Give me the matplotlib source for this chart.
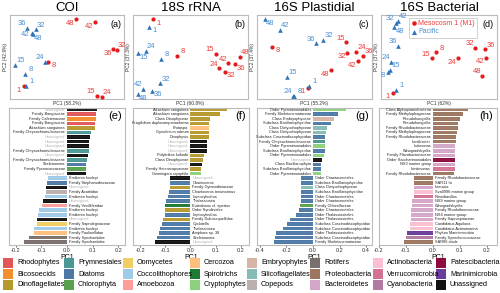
import numpy as np
import matplotlib.pyplot as plt
from matplotlib.patches import Rectangle

plt.rcParams['font.family'] = ['Liberation Sans', 'DejaVu Sans']

W, H = 500, 293

# ---- ordination scores (arbitrary PC units) ----
samples = ['1', '8', '15', '24', '32', '36', '42', '48']

coi_m1_pc1 = [14.3, 37.7, 86.5, 91.5, 106.7, 103.3, 85.0, 66.0]
coi_m1_pc2 = [13.0, 37.3, 3.0, 2.0, 49.0, 50.0, 76.7, 80.0]
coi_pa_pc1 = [16.0, 15.0, 5.0, 35.0, 25.7, 17.3, 21.7, 22.5]
coi_pa_pc2 = [13.3, 25.0, 34.0, 37.3, 69.7, 71.3, 65.7, 65.0]

s18_m1_pc1 = [20.3, 43.7, 82.7, 86.0, 92.0, 102.0, 95.3, 107.0]
s18_m1_pc2 = [79.7, 43.0, 45.0, 30.7, 27.3, 34.7, 35.7, 42.3]
s18_pa_pc1 = [16.0, 28.0, 5.3, 12.7, 27.0, 19.3, 10.3, 4.7]
s18_pa_pc2 = [72.3, 40.0, 45.7, 48.0, 15.7, 8.3, 10.0, 4.7]

pla_m1_pc1 = [51.3, 14.7, 89.0, 99.0, 90.3, 106.3, 100.7, 73.7]
pla_m1_pc2 = [11.3, 52.3, 56.7, 47.3, 46.3, 43.0, 38.0, 29.0]
pla_pa_pc1 = [52.0, 37.0, 30.3, 36.3, 66.3, 59.0, 23.0, 8.0]
pla_pa_pc2 = [13.0, 3.3, 22.3, 3.0, 59.0, 55.7, 69.0, 80.0]

bac_m1_pc1 = [12.3, 54.7, 50.7, 76.7, 94.0, 104.0, 104.7, 101.3]
bac_m1_pc2 = [6.3, 46.7, 40.7, 40.7, 51.3, 49.7, 41.3, 23.0]
bac_pa_pc1 = [14.7, 7.3, 9.0, 10.0, 14.7, 17.3, 16.7, 13.3]
bac_pa_pc2 = [9.0, 27.3, 29.0, 37.3, 76.3, 53.0, 78.3, 71.7]

titles = ['COI', '18S rRNA', '16S Plastidial', '16S Bacterial']
pc1_labels = ['PC1 (58.2%)', 'PC1 (60.8%)', 'PC1 (55.2%)', 'PC1 (62%)']
pc2_labels = ['PC2 (42.9%)', 'PC2 (37.3%)', 'PC2 (37.4%)', 'PC2 (37.2%)']

# ---- PC1 loadings, top to bottom ----
coi_taxa = ['Unassigned', 'Family Bangiaceae', 'Family Cafeteriaceae', 'Family Bangiaceae',
            'Akashiwo sanguinea', 'Family Chrysochromulinaceae', 'Unassigned', 'Unassigned',
            'Unassigned', 'Family Chrysochromulinaceae', 'Unassigned', 'Family Chrysochromulinaceae',
            'Skeletonema', 'Family Pycnococcaceae', 'Unassigned',
            'Emiliania huxleyi', 'Family Stephanodiscaceae', 'Unassigned', 'Family Acartiidae',
            'Emiliania huxleyi', 'Unassigned', 'Family Vexilliferidae', 'Emiliania huxleyi',
            'Emiliania huxleyi', 'Unassigned', 'Family Saprolegniaceae', 'Emiliania huxleyi',
            'Family Paulinellidae', 'Family Synchaetidae', 'Family Synchaetidae']
coi_load = [0.116, 0.112, 0.113, 0.110, 0.108, 0.092, 0.089, 0.088, 0.086, 0.085, 0.083, 0.079,
            0.076, 0.074, 0.074,
            -0.076, -0.078, -0.082, -0.082, -0.085, -0.092, -0.098, -0.109, -0.115, -0.119,
            -0.119, -0.128, -0.131, -0.148, -0.170]
coi_group = ['Unassigned', 'Rhodophytes', 'Bicosoecids', 'Rhodophytes', 'Dinoflagellates',
             'Prymnesiales', 'Unassigned', 'Unassigned', 'Unassigned', 'Prymnesiales', 'Unassigned',
             'Prymnesiales', 'Diatoms', 'Chlorophyta', 'Unassigned',
             'Coccolithophores', 'Diatoms', 'Unassigned', 'Copepods', 'Coccolithophores',
             'Unassigned', 'Amoebozoa', 'Coccolithophores', 'Coccolithophores', 'Unassigned',
             'Oomycetes', 'Coccolithophores', 'Cercozoa', 'Rotifers', 'Rotifers']

s18_taxa = ['Akashiwo sanguinea', 'Akashiwo sanguinea', 'Class Dinophyceae',
            'Fragilidium duplocampanaeforme', 'Protaspa', 'Gyrodinium rubrum', 'Dinophysis',
            'Unassigned', 'Unassigned', 'Unassigned', 'Polykrikos kofoidii', 'Class Dinophyceae',
            'Unassigned', 'Family Heterocapsaceae', 'Geminigera cryophila',
            'Unassigned', 'Chaetoceros', 'Family Gymnodiniaceae', 'Chaetoceros tenuissimus',
            'Leptocylindrus', 'Thalassiosira', 'Eutintinnus cf. apertus', 'Order Syndiniales',
            'Leptocylindrus', 'Family Duboscquellidae', 'Cyclotella', 'Thalassiosira',
            'Amphora sp. 38', 'Skeletonema', 'Unassigned']
s18_load = [0.146, 0.116, 0.079, 0.075, 0.073, 0.073, 0.073, 0.066, 0.066, 0.066, 0.053, 0.049,
            0.046, 0.044, 0.044,
            -0.079, -0.079, -0.082, -0.086, -0.090, -0.095, -0.100, -0.100, -0.100, -0.108,
            -0.114, -0.119, -0.124, -0.132, -0.140]
s18_group = ['Dinoflagellates', 'Dinoflagellates', 'Dinoflagellates', 'Dinoflagellates', 'Cercozoa',
             'Dinoflagellates', 'Dinoflagellates', 'Unassigned', 'Unassigned', 'Unassigned',
             'Dinoflagellates', 'Dinoflagellates', 'Unassigned', 'Dinoflagellates', 'Cryptophytes',
             'Unassigned', 'Diatoms', 'Dinoflagellates', 'Diatoms', 'Diatoms', 'Diatoms',
             'Spirotrichs', 'Dinoflagellates', 'Diatoms', 'Dinoflagellates', 'Diatoms', 'Diatoms',
             'Diatoms', 'Diatoms', 'Unassigned']

pla_taxa = ['Order Pyramimonadales', 'Family Skeletonemataceae', 'Class Embryophyceae',
            'Subclass Bacillariophycidae', 'Class Dictyochophyceae', 'Class Dictyochophyceae',
            'Subclass Coscinodiscophycidae', 'Family Chrysochromulinaceae', 'Order Pyramimonadales',
            'Subclass Bacillariophycidae', 'Order Pyramimonadales', 'Unassigned',
            'Class Bacillariophyta', 'Subclass Bacillariophycidae', 'Order Pyramimonadales',
            'Order Chaetocerotales', 'Subclass Bacillariophycidae', 'Class Dictyochophyceae',
            'Subclass Bacillariophycidae', 'Order Chaetocerotales', 'Order Chaetocerotales',
            'Family Chlorellaceae', 'Order Chaetocerotales', 'Order Thalassiosirales',
            'Order Thalassiosirales', 'Subclass Coscinodiscophycidae',
            'Subclass Coscinodiscophycidae', 'Order Thalassiosirales',
            'Subclass Coscinodiscophycidae', 'Family Skeletonemataceae']
pla_load = [0.250, 0.188, 0.155, 0.133, 0.105, 0.095, 0.093, 0.088, 0.088, 0.088, 0.080, 0.070,
            0.063, 0.063, 0.058,
            -0.088, -0.088, -0.088, -0.088, -0.088, -0.093, -0.100, -0.108, -0.125, -0.175,
            -0.195, -0.225, -0.280, -0.288, -0.295]
pla_group = ['Cryptophytes', 'Diatoms', 'Embryophytes', 'Diatoms', 'Silicoflagellates',
             'Silicoflagellates', 'Diatoms', 'Prymnesiales', 'Cryptophytes', 'Diatoms',
             'Cryptophytes', 'Unassigned', 'Diatoms', 'Diatoms', 'Cryptophytes',
             'Diatoms', 'Diatoms', 'Silicoflagellates', 'Diatoms', 'Diatoms', 'Diatoms',
             'Chlorophyta', 'Diatoms', 'Diatoms', 'Diatoms', 'Diatoms', 'Diatoms', 'Diatoms',
             'Diatoms', 'Diatoms']

bac_taxa = ['Class Alphaproteobacteria', 'Family Methylophagaceae', 'Pseudohongiella',
            'Pseudohongiella', 'Family Rhodobacteraceae', 'Family Methylophagaceae',
            'Family Rhodobacteraceae', 'Lentibacter', 'Lutimonas', 'Winogradskyella',
            'Family Flavobacteriaceae', 'Order Saccharimonadales', 'NS3 marine group',
            'Lentimonas', 'Family Rhodobacteraceae',
            'Family Rhodobacteraceae', 'SAR11 Ia', 'Leeuwia', 'Sva0996 marine group',
            'Roseibacillus', 'NS9 marine group', 'Winogradskyella', 'Family Rhodothermaceae',
            'NS4 marine group', 'Family Saprospiraceae', 'Candidatus Aquiluna',
            'Candidatus Actinomarina', 'Phylum Marinimicrobia', 'Family Synechococcaceae',
            'SAR86 clade']
bac_load = [0.129, 0.110, 0.099, 0.094, 0.092, 0.088, 0.086, 0.084, 0.081, 0.081, 0.080, 0.080,
            0.080, 0.080, 0.079,
            -0.069, -0.069, -0.069, -0.069, -0.069, -0.076, -0.076, -0.080, -0.080, -0.080,
            -0.084, -0.084, -0.095, -0.099, -0.106]
bac_group = ['Proteobacteria'] * 8 + ['Bacteroidetes', 'Bacteroidetes', 'Bacteroidetes',
             'Patescibacteria', 'Bacteroidetes', 'Verrucomicrobia', 'Proteobacteria',
             'Proteobacteria', 'Proteobacteria', 'Bacteroidetes', 'Actinobacteria',
             'Verrucomicrobia', 'Bacteroidetes', 'Bacteroidetes', 'Bacteroidetes',
             'Bacteroidetes', 'Bacteroidetes', 'Actinobacteria', 'Actinobacteria',
             'Marinimicrobia', 'Cyanobacteria', 'Proteobacteria']

# legend order (column by column)
groups = ['Rhodophytes', 'Bicosoecids', 'Dinoflagellates',
          'Prymnesiales', 'Diatoms', 'Chlorophyta',
          'Oomycetes', 'Coccolithophores', 'Amoebozoa',
          'Cercozoa', 'Spirotrichs', 'Cryptophytes',
          'Embryophytes', 'Silicoflagellates', 'Copepods',
          'Rotifers', 'Proteobacteria', 'Bacteroidetes',
          'Actinobacteria', 'Verrucomicrobia', 'Cyanobacteria',
          'Patescibacteria', 'Marinimicrobia', 'Unassigned']
group_colors = ['#E15759', '#F28E2B', '#B6992D',
                '#499894', '#4E79A7', '#59A14F',
                '#F1CE63', '#A0CBE8', '#FF9D9A',
                '#FFBE7D', '#1E7B34', '#8CD17D',
                '#D7B5A6', '#86BCB6', '#BAB0AC',
                '#79706E', '#9D7660', '#D4A6C8',
                '#FABFD2', '#D37295', '#B07AA1',
                '#8E0B3F', '#6A3D9A', '#111111']
cmap = dict(zip(groups, group_colors))

RED, RED_T = '#E41A1C', '#EE3B3B'
BLUE, BLUE_T = '#2F73B8', '#4A8FD2'
EDGE = '#BBBBBB'

fig = plt.figure(figsize=(W / 100, H / 100), dpi=100)


def rect(l, t, r, b):
    return [l / W, 1 - b / H, (r - l) / W, (b - t) / H]


offs = {'ra': (4, 3), 'rb': (4, -3), 'la': (-4, 3), 'lb': (-4, -3), 'l': (-5, -1), 'r': (5, 0)}

scatter_sets = [
    (coi_m1_pc1, coi_m1_pc2, coi_pa_pc1, coi_pa_pc2,
     ['lb', 'rb', 'la', 'ra', 'ra', 'lb', 'lb', 'lb'],
     ['ra', 'ra', 'ra', 'la', 'ra', 'la', 'l', 'rb']),
    (s18_m1_pc1, s18_m1_pc2, s18_pa_pc1, s18_pa_pc2,
     ['rb', 'ra', 'la', 'la', 'rb', 'rb', 'la', 'ra'],
     ['rb', 'ra', 'rb', 'ra', 'ra', 'rb', 'la', 'rb']),
    (pla_m1_pc1, pla_m1_pc2, pla_pa_pc1, pla_pa_pc2,
     ['lb', 'rb', 'la', 'ra', 'lb', 'ra', 'lb', 'lb'],
     ['ra', 'ra', 'ra', 'la', 'ra', 'la', 'ra', 'rb']),
    (bac_m1_pc1, bac_m1_pc2, bac_pa_pc1, bac_pa_pc2,
     ['lb', 'ra', 'la', 'lb', 'la', 'ra', 'lb', 'la'],
     ['ra', 'lb', 'ra', 'la', 'la', 'la', 'ra', 'rb']),
]
top_boxes = [(10, 15, 124, 99), (133, 15, 248, 99), (257, 15, 372, 99), (381, 15, 497, 99)]
letters_top = ['(a)', '(b)', '(c)', '(d)']

for k, (box, sset) in enumerate(zip(top_boxes, scatter_sets)):
    ax = fig.add_axes(rect(*box))
    mx, my, px, py, mo, po = sset
    ax.scatter(mx, my, s=9, color=RED, marker='o', zorder=3, label='Mesocosm 1 (M1)', linewidths=0)
    ax.scatter(px, py, s=11, color=BLUE, marker='^', zorder=3, label='Pacific', linewidths=0)
    for x, y, t, o in zip(mx, my, samples, mo):
        ax.annotate(t, (x, y), xytext=offs[o], textcoords='offset points', fontsize=5.5,
                    color=RED_T, ha='center', va='center')
    for x, y, t, o in zip(px, py, samples, po):
        ax.annotate(t, (x, y), xytext=offs[o], textcoords='offset points', fontsize=5.5,
                    color=BLUE_T, ha='center', va='center')
    ax.set_xlim(0, box[2] - box[0])
    ax.set_ylim(0, box[3] - box[1])
    ax.set_xticks([])
    ax.set_yticks([])
    for sp in ax.spines.values():
        sp.set_color(EDGE)
        sp.set_linewidth(0.8)
    ax.set_title(titles[k], fontsize=9.5, pad=3)
    ax.set_xlabel(pc1_labels[k], fontsize=3.5, labelpad=1.5, color='#333333')
    ax.set_ylabel(pc2_labels[k], fontsize=3.5, labelpad=1.5, color='#333333')
    ax.text(0.975, 0.94, letters_top[k], transform=ax.transAxes, fontsize=6.5,
            ha='right', va='top')
    if k == 3:
        lg = ax.legend(loc='upper left', bbox_to_anchor=((409 - 381) / 116, 1 - 3 / 84),
                       fontsize=5.0, handletextpad=0.1, borderpad=0.3, labelspacing=0.2,
                       fancybox=False, edgecolor=EDGE, markerscale=1.1, handlelength=0.9,
                       borderaxespad=0)
        lg.get_frame().set_linewidth(0.6)
        for txt, c in zip(lg.get_texts(), [RED_T, BLUE_T]):
            txt.set_color(c)

bar_sets = [(coi_taxa, coi_load, coi_group), (s18_taxa, s18_load, s18_group),
            (pla_taxa, pla_load, pla_group), (bac_taxa, bac_load, bac_group)]
bot_boxes = [(9, 108, 125, 245), (133, 108, 249, 245), (257, 108, 372, 245), (379, 108, 497, 245)]
xlims = [(-0.227, 0.227), (-0.228, 0.233), (-0.422, 0.445), (-0.2, 0.237)]
xticks = [[-0.2, -0.1, 0.0, 0.1, 0.2], [-0.2, -0.1, 0.0, 0.1, 0.2],
          [-0.4, -0.2, 0.0, 0.2, 0.4], [-0.2, -0.1, 0.0, 0.1, 0.2]]
letters_bot = ['(e)', '(f)', '(g)', '(h)']

for k, (box, (taxa, load, grp)) in enumerate(zip(bot_boxes, bar_sets)):
    ax = fig.add_axes(rect(*box))
    n = len(taxa)
    ypos = np.arange(n)[::-1]
    cols = [cmap[g] for g in grp]
    ax.barh(ypos, load, height=0.78, color=cols, edgecolor='none', zorder=2)
    # faint dotted texture along the bars
    for y, v in zip(ypos, load):
        ax.plot([0, v], [y, y], ls=(0, (0.6, 1.2)), lw=0.35, color='white', alpha=0.55, zorder=3)
    for y, v, t in zip(ypos, load, taxa):
        c = '#B5B5B5' if t == 'Unassigned' else '#222222'
        if v > 0:
            ax.annotate(t, (0, y), xytext=(-1.5, 0), textcoords='offset points', ha='right',
                        va='center', fontsize=2.8, color=c)
        else:
            ax.annotate(t, (0, y), xytext=(1.5, 0), textcoords='offset points', ha='left',
                        va='center', fontsize=2.8, color=c)
    ax.set_ylim(-0.6, n - 0.65)
    ax.set_xlim(*xlims[k])
    ax.set_xticks(xticks[k])
    ax.set_xticklabels([f'{t:.1f}' for t in xticks[k]])
    ax.set_yticks([])
    ax.tick_params(axis='x', labelsize=4, length=1.5, width=0.5, pad=1, colors='#333333')
    for sp in ax.spines.values():
        sp.set_color(EDGE)
        sp.set_linewidth(0.8)
    ax.set_xlabel('PC1', fontsize=5, labelpad=0.5)
    ax.text(0.97, 0.975, letters_bot[k], transform=ax.transAxes, fontsize=8,
            ha='right', va='top')

# colour key below the bar panels, placed column by column
key_cols = [3, 64, 123, 190, 247, 310, 373, 436]
key_rows = [258, 269, 280]
for i, g in enumerate(groups):
    x0 = key_cols[i // 3]
    y0 = key_rows[i % 3]
    fig.add_artist(Rectangle((x0 / W, 1 - (y0 + 10) / H), 10 / W, 10 / H,
                             transform=fig.transFigure, facecolor=cmap[g], edgecolor='none'))
    fig.text((x0 + 14) / W, 1 - (y0 + 5) / H, g, fontsize=5.2, ha='left', va='center')

fig.savefig('out.png', dpi=100)
